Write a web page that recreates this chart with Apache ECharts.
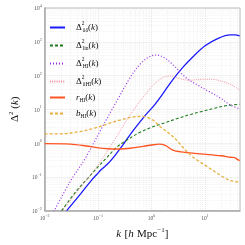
<!DOCTYPE html>
<html>
<head>
<meta charset="utf-8">
<script src="https://cdn.jsdelivr.net/npm/echarts@6/dist/echarts.min.js"></script>
<style>html,body{margin:0;padding:0;background:#fff}#c{width:245px;height:245px}</style>
</head>
<body>
<div id="c"></div>
<script>
// Δ²_δδ(k)
var kDD = [0.0258, 0.0474, 0.0762, 0.0935, 0.1146, 0.150, 0.197, 0.296, 0.444, 0.762, 1.146, 1.72, 2.58, 3.87, 5.82, 10, 17.2, 29.6, 36.2, 44.4];
var dDD = [0.00995, 0.0319, 0.0817, 0.115, 0.165, 0.239, 0.392, 0.918, 2.25, 6.59, 13.8, 33.0, 81, 177, 348, 760, 1245, 1592, 1592, 1489];
// Δ²_lin(k)
var kLin = [0.0208, 0.0388, 0.0667, 0.1, 0.150, 0.225, 0.338, 0.582, 1, 1.72, 2.96, 5.08, 8.73, 15, 25.8, 44.4];
var dLin = [0.00995, 0.0373, 0.0977, 0.2, 0.392, 0.768, 1.2, 2.01, 2.94, 3.94, 5.27, 6.9, 8.63, 10.8, 12.9, 14.1];
// Δ²_HI(k)
var kHI = [0.0148, 0.0296, 0.0582, 0.1146, 0.238, 0.387, 0.582, 0.873, 1.225, 1.72, 2.58, 4.44, 7.62, 13.1, 19.7, 29.6, 44.4];
var dHI = [0.0093, 0.0698, 0.366, 2.63, 21.1, 81, 199, 348, 406, 340, 199, 84.8, 49.5, 30.9, 21.1, 13.5, 10.3];
// Δ²_δHI(k)
var kX = [0.0222, 0.0388, 0.0667, 0.1056, 0.197, 0.362, 0.667, 1.146, 1.72, 2.25, 3.38, 5.08, 8.73, 13.1, 22.5, 33.8, 44.4];
var dX = [0.0104, 0.0333, 0.0977, 0.256, 1.15, 5.5, 21.1, 58, 90.6, 96.9, 81, 72.5, 77.4, 77.4, 64.7, 49.5, 37];
// r_HI(k)
var kR = [0.01, 0.03, 0.06, 0.1, 0.15, 0.25, 0.4, 0.7, 1.0, 1.4, 1.8, 2.5, 3.5, 8, 20, 30, 36, 40, 44.4];
var dR = [0.96, 0.93, 0.82, 0.72, 0.68, 0.67, 0.7, 0.8, 0.88, 0.93, 0.85, 0.62, 0.55, 0.48, 0.42, 0.38, 0.37, 0.33, 0.30];
// b_HI(k)
var kB = [0.01, 0.0197, 0.0388, 0.0762, 0.15, 0.258, 0.444, 0.667, 1, 1.5, 2.25, 2.96, 4.15, 5.82, 11.5, 19.7, 29.6, 44.4];
var dB = [1.88, 1.88, 2.1, 2.63, 3.68, 4.82, 5.9, 6.16, 5.04, 2.94, 1.8, 1.2, 0.656, 0.392, 0.191, 0.109, 0.078, 0.0698];

var names = ['dd', 'lin', 'HI', 'dHI', 'r', 'b'];

function zip(a, b) { return a.map(function (v, i) { return [v, b[i]]; }); }
var SERIF = 'Liberation Serif';
function isDecade(v) { var l = Math.log10(v); return Math.abs(l - Math.round(l)) < 1e-6; }
function expLabel(v) {
  if (!isDecade(v)) return '';
  var e = Math.round(Math.log10(v));
  return '{b|10}{e|' + (e < 0 ? '\u2212' + (-e) : e) + '}';
}
var tickRich = {
  b: {fontSize: 5.5, fontFamily: SERIF, color: '#555', lineHeight: 8, verticalAlign: 'bottom'},
  e: {fontSize: 4, fontFamily: SERIF, color: '#555', lineHeight: 8, verticalAlign: 'top'}
};
var legendText = {
  dd: '{D|\u0394}{p|2}{s|\u03b4\u03b4}{n|(}{i|k}{n|)}',
  lin: '{D|\u0394}{p|2}{s|lin}{n|(}{i|k}{n|)}',
  HI: '{D|\u0394}{p|2}{s|HI}{n|(}{i|k}{n|)}',
  dHI: '{D|\u0394}{p|2}{s|\u03b4HI}{n|(}{i|k}{n|)}',
  r: '{I|r}{s|HI}{n|(}{i|k}{n|)}',
  b: '{I|b}{s|HI}{n|(}{i|k}{n|)}'
};
var lrich = {
  D: {fontSize: 9, fontFamily: SERIF, color: '#111', lineHeight: 13, padding: [0, 0, 0, 6]},
  I: {fontSize: 9, fontFamily: SERIF, fontStyle: 'italic', color: '#111', lineHeight: 13, padding: [0, 0, 0, 6]},
  p: {fontSize: 5.5, fontFamily: SERIF, color: '#111', lineHeight: 13, verticalAlign: 'top', width: 1},
  s: {fontSize: 5.5, fontFamily: SERIF, color: '#111', lineHeight: 13, verticalAlign: 'bottom'},
  n: {fontSize: 9, fontFamily: SERIF, color: '#111', lineHeight: 13},
  i: {fontSize: 9, fontFamily: SERIF, fontStyle: 'italic', color: '#111', lineHeight: 13}
};
var chart = echarts.init(document.getElementById('c'), null, {renderer: 'canvas'});
var axisCommon = {
  type: 'log', logBase: 10,
  axisLine: {show: true, onZero: false, lineStyle: {color: '#aaa', width: 1.5}},
  axisTick: {show: false},
  minorTick: {show: false, splitNumber: 9},
  splitLine: {show: true, lineStyle: {color: '#d4d4d4', type: [1, 1], width: 0.6}},
  minorSplitLine: {show: true, lineStyle: {color: '#e6e6e6', type: [1, 1], width: 0.5}}
};
function mkSeries(name, k, d, color, width, type) {
  return {
    name: name, type: 'line', data: zip(k, d), smooth: 0.35, symbol: 'none', showSymbol: false,
    lineStyle: {color: color, width: width, type: type}, itemStyle: {color: color}, z: 3, animation: false
  };
}
var nameRich = {
  i: {fontSize: 11, fontFamily: SERIF, fontStyle: 'italic', color: '#111', lineHeight: 15},
  n: {fontSize: 11, fontFamily: SERIF, color: '#111', lineHeight: 15},
  e: {fontSize: 7, fontFamily: SERIF, color: '#111', lineHeight: 15, verticalAlign: 'top'}
};
chart.setOption({
  animation: false,
  grid: {left: 33, right: 5, top: 8, bottom: 31, show: true, borderColor: '#bbb', borderWidth: 1, backgroundColor: 'transparent'},
  legend: {
    orient: 'vertical', left: 44, top: 16, itemWidth: 15, itemHeight: 10, itemGap: 5,
    data: names, formatter: function (n) { return legendText[n]; },
    itemStyle: {opacity: 0},
    textStyle: {rich: lrich}
  },
  xAxis: Object.assign({}, axisCommon, {
    min: 0.01, max: 45,
    axisLabel: {margin: 3, formatter: expLabel, rich: tickRich, showMaxLabel: false},
    name: '{i|k} {n|[}{i|h} {n|Mpc}{e|\u22121}{n|]}', nameLocation: 'middle', nameGap: 8,
    nameTextStyle: {rich: nameRich}
  }),
  yAxis: Object.assign({}, axisCommon, {
    min: 0.01, max: 10000,
    axisLabel: {margin: 3, formatter: expLabel, rich: tickRich},
    name: '{n|\u0394}{e|2}{n| (}{i|k}{n|)}', nameLocation: 'middle', nameGap: 12, nameRotate: 90,
    nameTextStyle: {rich: nameRich}
  }),
  series: [
    mkSeries('dd', kDD, dDD, '#1a1aff', 1.3, 'solid'),
    mkSeries('lin', kLin, dLin, '#1f7a1f', 1.1, [3, 2]),
    mkSeries('HI', kHI, dHI, '#9a2ee6', 1.2, [1, 2]),
    mkSeries('dHI', kX, dX, '#f28c9a', 0.9, [1, 1.2]),
    mkSeries('r', kR, dR, '#ff5522', 1.4, 'solid'),
    mkSeries('b', kB, dB, '#e8b040', 1.3, [3, 2])
  ]
});
</script>
</body>
</html>
